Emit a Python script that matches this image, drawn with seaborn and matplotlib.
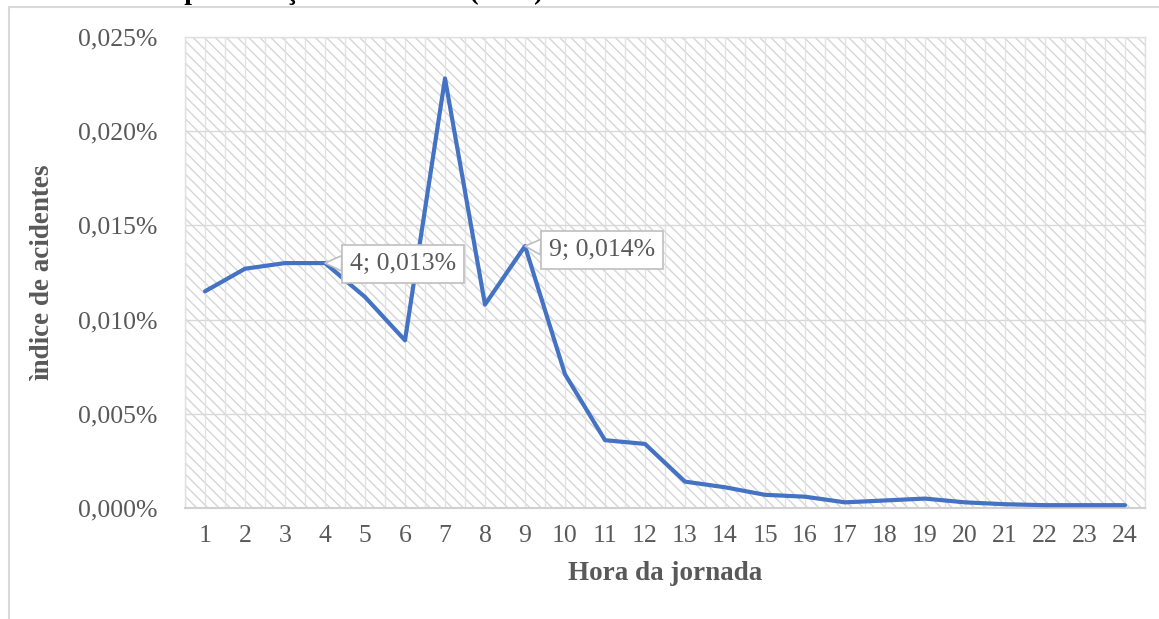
import numpy as np
import pandas as pd
import matplotlib
matplotlib.use("Agg")
import matplotlib.pyplot as plt
import seaborn as sns
from matplotlib.ticker import FuncFormatter, MultipleLocator
from matplotlib.patches import Rectangle

hours = list(range(1, 25))
indice = [0.0115, 0.0127, 0.0130, 0.0130, 0.0112, 0.0089, 0.0228, 0.0108,
          0.0139, 0.0071, 0.0036, 0.0034, 0.0014, 0.0011, 0.0007, 0.0006,
          0.0003, 0.0004, 0.0005, 0.0003, 0.0002, 0.00015, 0.00015, 0.00015]
labels = {4: "4; 0,013%", 9: "9; 0,014%"}
title = "Gráfico 1 – Representação da tabela 1 (2021)"

df = pd.DataFrame({"hora": hours, "indice": indice})

sns.set_theme(style="white")
plt.rcParams['font.family'] = ['Liberation Serif', 'DejaVu Serif']
plt.rcParams['hatch.linewidth'] = 1.0
plt.rcParams['hatch.color'] = '#d6d6d6'

W, H = 1159, 619
fig = plt.figure(figsize=(W / 100, H / 100), dpi=100)
ax = fig.add_axes([185 / W, 1 - 508 / H, (1145 - 185) / W, (508 - 37) / H])

# outer chart border
fig.patches.append(Rectangle((9 / W, -0.1), 1.2, 1 - 7 / H + 0.1, transform=fig.transFigure,
                             fill=False, edgecolor='#d9d9d9', linewidth=1.5, zorder=0))

ax.patch.set_facecolor('white')
ax.patch.set_hatch('\\\\\\')
ax.patch.set_edgecolor('#d6d6d6')

sns.lineplot(data=df, x="hora", y="indice", ax=ax, color='#4472C4', linewidth=3.0, zorder=5)

ax.set_xlim(0.5, 24.5)
ax.set_ylim(0, 0.025)
ax.xaxis.set_major_locator(MultipleLocator(1))
ax.xaxis.set_minor_locator(MultipleLocator(0.5))
ax.yaxis.set_major_locator(MultipleLocator(0.005))
ax.yaxis.set_major_formatter(FuncFormatter(lambda v, p: f"{v:.3f}%".replace('.', ',')))
ax.grid(axis='x', which='both', color='#e3e3e3', linewidth=1.0, zorder=1)
ax.grid(axis='y', which='major', color='#d9d9d9', linewidth=1.0, zorder=1)
ax.set_axisbelow(True)
for s in ax.spines.values():
    s.set_color('#e0e0e0')
    s.set_linewidth(1.0)
ax.spines['bottom'].set_color('#d0d0d0')
ax.spines['bottom'].set_linewidth(1.5)

ax.tick_params(axis='both', which='both', length=0, labelsize=18.5, colors='#595959')
ax.tick_params(axis='x', pad=12)
ax.tick_params(axis='y', pad=20)

ax.set_xlabel("Hora da jornada", fontsize=19.5, fontweight='bold', color='#595959', labelpad=10)
ax.set_ylabel("ìndice de acidentes", fontsize=19.5, fontweight='bold', color='#595959', labelpad=16)

offsets = {4: (78, -1), 9: (77, -4)}
for h, txt in labels.items():
    yv = indice[hours.index(h)]
    ax.annotate(txt, xy=(h, yv), xytext=offsets[h], textcoords='offset pixels',
                ha='center', va='center', fontsize=18.5, color='#595959', zorder=10,
                bbox=dict(boxstyle='square,pad=0.3', fc='white', ec='#bfbfbf', lw=1.2),
                arrowprops=dict(arrowstyle='wedge,tail_width=0.6,shrink_factor=0.5',
                                fc='white', ec='#bfbfbf', lw=1.2, shrinkA=0, shrinkB=0))

fig.text(12 / W, 1 + 1.0 / H, title, fontsize=20, fontweight='bold', color='black',
         ha='left', va='baseline')

fig.savefig("out.png", dpi=100)
